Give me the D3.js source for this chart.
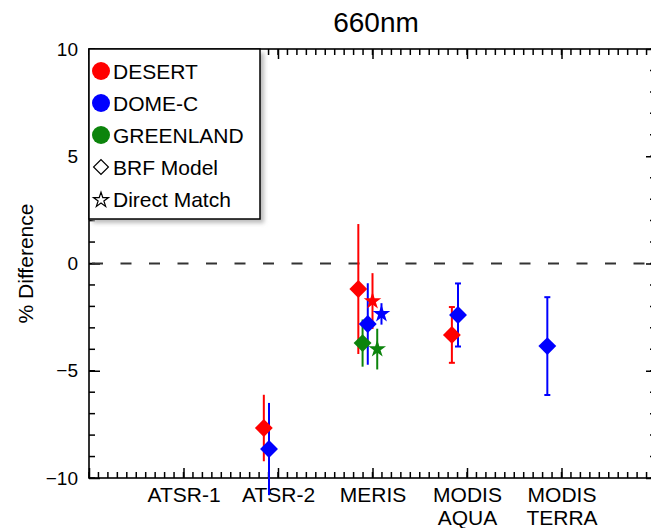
<!DOCTYPE html>
<html>
<head>
<meta charset="utf-8">
<script src="https://cdn.jsdelivr.net/npm/d3@7"></script>
<style>
  body { margin: 0; background: #fff; }
  svg { font-family: "Liberation Sans", Arial, Helvetica, sans-serif; }
</style>
</head>
<body>
<div id="canvas"></div>
<script>
const instruments = ["ATSR-1", "ATSR-2", "MERIS", "MODIS AQUA", "MODIS TERRA"];
const sites = ["DESERT", "DOME-C", "GREENLAND"];
const methods = ["BRF Model", "Direct Match"];
const cappedInstruments = ["MODIS AQUA", "MODIS TERRA"];
const yTicks = [-10, -5, 0, 5, 10];

// % difference per instrument, null = no value
const desertBRF = [null, -7.67, -1.19, -3.33, null];
const desertBRFErr = [null, 1.55, 3.03, 1.30, null];
const domecBRF = [null, -8.65, -2.82, -2.40, -3.85];
const domecBRFErr = [null, 2.15, 1.90, 1.47, 2.28];
const greenlandBRF = [null, null, -3.71, null, null];
const greenlandBRFErr = [null, null, 1.10, null, null];
const desertDirect = [null, null, -1.75, null, null];
const desertDirectErr = [null, null, 1.30, null, null];
const domecDirect = [null, null, -2.35, null, null];
const domecDirectErr = [null, null, 0.50, null, null];
const greenlandDirect = [null, null, -3.99, null, null];
const greenlandDirectErr = [null, null, 0.95, null, null];

// dodge around the category tick, in category units
const desertBRFShift = [0, -0.15, -0.15, -0.16, 0];
const domecBRFShift = [0, -0.095, -0.05, -0.095, -0.15];
const greenlandBRFShift = [0, 0, -0.105, 0, 0];
const desertDirectShift = [0, 0, 0.0, 0, 0];
const domecDirectShift = [0, 0, 0.095, 0, 0];
const greenlandDirectShift = [0, 0, 0.05, 0, 0];

const series = [
  { site: "DESERT", method: "BRF Model", values: desertBRF, errs: desertBRFErr, shift: desertBRFShift },
  { site: "DOME-C", method: "BRF Model", values: domecBRF, errs: domecBRFErr, shift: domecBRFShift },
  { site: "GREENLAND", method: "BRF Model", values: greenlandBRF, errs: greenlandBRFErr, shift: greenlandBRFShift },
  { site: "DESERT", method: "Direct Match", values: desertDirect, errs: desertDirectErr, shift: desertDirectShift },
  { site: "DOME-C", method: "Direct Match", values: domecDirect, errs: domecDirectErr, shift: domecDirectShift },
  { site: "GREENLAND", method: "Direct Match", values: greenlandDirect, errs: greenlandDirectErr, shift: greenlandDirectShift }
];

const colors = { "DESERT": "#ff0000", "DOME-C": "#0000ff", "GREENLAND": "#0c840c" };

const points = [];
series.forEach(s => {
  s.values.forEach((v, i) => {
    if (v === null) return;
    points.push({ site: s.site, method: s.method, inst: instruments[i], pos: i + 1 + s.shift[i], value: v, err: s.errs[i] });
  });
});

const width = 651;
const height = 528;
const margin = { top: 49, left: 89, bottom: 50, right: -5 };

const svg = d3.select("#canvas").append("svg")
  .attr("width", width)
  .attr("height", height);

const x = d3.scaleLinear()
  .domain([0, instruments.length + 1])
  .range([margin.left, width - margin.right]);

const y = d3.scaleLinear()
  .domain([-10, 10])
  .range([height - margin.bottom, margin.top]);

const axisStroke = g => {
  g.select(".domain").remove();
  g.selectAll(".tick line").attr("stroke", "#000").attr("stroke-width", 1.5);
};

// frame
svg.append("rect")
  .attr("x", x(0))
  .attr("y", y(10))
  .attr("width", x(instruments.length + 1) - x(0))
  .attr("height", y(-10) - y(10))
  .attr("fill", "none")
  .attr("stroke", "#000")
  .attr("stroke-width", 1.6);

// minor ticks
const minorX = d3.range(0, 61).map(k => k / 10);
const minorY = d3.range(-10, 11);
const minor = svg.append("g");
const tickLine = sel => sel.attr("stroke", "#000").attr("stroke-width", 1.5);
minor.selectAll(null).data(minorX).enter().append("line")
  .attr("x1", d => x(d)).attr("x2", d => x(d))
  .attr("y1", y(-10)).attr("y2", y(-10) - 6).call(tickLine);
minor.selectAll(null).data(minorX).enter().append("line")
  .attr("x1", d => x(d)).attr("x2", d => x(d))
  .attr("y1", y(10)).attr("y2", y(10) + 6).call(tickLine);
minor.selectAll(null).data(minorY).enter().append("line")
  .attr("x1", x(0)).attr("x2", x(0) + 6)
  .attr("y1", d => y(d)).attr("y2", d => y(d)).call(tickLine);
minor.selectAll(null).data(minorY).enter().append("line")
  .attr("x1", x(6)).attr("x2", x(6) - 6)
  .attr("y1", d => y(d)).attr("y2", d => y(d)).call(tickLine);

// major ticks
const xb = svg.append("g")
  .attr("transform", `translate(0,${y(-10)})`)
  .call(d3.axisBottom(x).tickValues(d3.range(0, instruments.length + 2)).tickSize(-10)
    .tickFormat(i => instruments[i - 1] || ""))
  .call(axisStroke);
xb.selectAll(".tick text").each(function (t) {
  const el = d3.select(this);
  const words = (instruments[t - 1] || "").split(" ");
  el.text(null).attr("y", null).attr("dy", null)
    .attr("font-size", 21).attr("fill", "#000").attr("font-family", null);
  words.forEach((w, k) => {
    el.append("tspan").attr("x", 0).attr("y", 24 + k * 23).text(w);
  });
});
svg.append("g")
  .attr("transform", `translate(0,${y(10)})`)
  .call(d3.axisTop(x).tickValues(d3.range(0, instruments.length + 2)).tickSize(-10).tickFormat(() => ""))
  .call(axisStroke);
svg.append("g")
  .attr("transform", `translate(${x(0)},0)`)
  .call(d3.axisLeft(y).tickValues(yTicks).tickSize(-11).tickPadding(11).tickFormat(d3.format("d")))
  .call(axisStroke)
  .call(g => g.selectAll(".tick text").attr("font-size", 19).attr("fill", "#000").attr("font-family", null));
svg.append("g")
  .attr("transform", `translate(${x(instruments.length + 1)},0)`)
  .call(d3.axisRight(y).tickValues(yTicks).tickSize(-10).tickFormat(() => ""))
  .call(axisStroke);

// zero line
svg.append("line")
  .attr("x1", x(0)).attr("x2", x(instruments.length + 1))
  .attr("y1", y(0)).attr("y2", y(0))
  .attr("stroke", "#333")
  .attr("stroke-width", 2)
  .attr("stroke-dasharray", "11,17.5")
  .attr("stroke-dashoffset", -3);

// error bars
const bars = svg.append("g");
points.forEach(d => {
  const c = colors[d.site];
  const px = x(d.pos);
  bars.append("line")
    .attr("x1", px).attr("x2", px)
    .attr("y1", y(d.value + d.err)).attr("y2", y(d.value - d.err))
    .attr("stroke", c).attr("stroke-width", 2);
  if (cappedInstruments.includes(d.inst)) {
    [d.value + d.err, d.value - d.err].forEach(v => {
      bars.append("line")
        .attr("x1", px - 3).attr("x2", px + 3)
        .attr("y1", y(v)).attr("y2", y(v))
        .attr("stroke", c).attr("stroke-width", 2);
    });
  }
});

// markers
const diamond = d3.symbol(d3.symbolSquare, 160);
const star = d3.symbol(d3.symbolStar, 96);
svg.append("g").selectAll("path").data(points).enter().append("path")
  .attr("d", d => d.method === "BRF Model" ? diamond() : star())
  .attr("transform", d => `translate(${x(d.pos)},${y(d.value)})` + (d.method === "BRF Model" ? " rotate(45)" : ""))
  .attr("fill", d => colors[d.site]);

// title
svg.append("text")
  .attr("x", 376).attr("y", 32)
  .attr("text-anchor", "middle")
  .attr("font-size", 28)
  .text("660nm");

// y label
svg.append("text")
  .attr("transform", `translate(33,${y(0)}) rotate(-90)`)
  .attr("text-anchor", "middle")
  .attr("font-size", 21)
  .text("% Difference");

// legend
const defs = svg.append("defs");
defs.append("filter").attr("id", "shadow")
  .append("feGaussianBlur").attr("stdDeviation", 2);

const lg = svg.append("g").attr("transform", `translate(${x(0)},${y(10)})`);
lg.append("rect")
  .attr("x", 4).attr("y", 4).attr("width", 171).attr("height", 170)
  .attr("fill", "#bbb").attr("filter", "url(#shadow)");
lg.append("rect")
  .attr("width", 171).attr("height", 170)
  .attr("fill", "#fff").attr("stroke", "#000").attr("stroke-width", 1.5);

const legendItems = sites.map(s => ({ label: s, kind: "site" }))
  .concat(methods.map(m => ({ label: m, kind: m })));

legendItems.forEach((it, k) => {
  const cy = 22 + k * 32;
  if (it.kind === "site") {
    lg.append("circle").attr("cx", 12).attr("cy", cy).attr("r", 9).attr("fill", colors[it.label]);
  } else if (it.kind === "BRF Model") {
    lg.append("path").attr("d", d3.symbol(d3.symbolSquare, 110)())
      .attr("transform", `translate(12,${cy}) rotate(45)`)
      .attr("fill", "none").attr("stroke", "#000").attr("stroke-width", 1.2);
  } else {
    lg.append("path").attr("d", d3.symbol(d3.symbolStar, 70)())
      .attr("transform", `translate(12,${cy + 1})`)
      .attr("fill", "none").attr("stroke", "#000").attr("stroke-width", 1.2);
  }
  lg.append("text")
    .attr("x", 24).attr("y", cy + 8)
    .attr("font-size", 21)
    .text(it.label);
});
</script>
</body>
</html>
